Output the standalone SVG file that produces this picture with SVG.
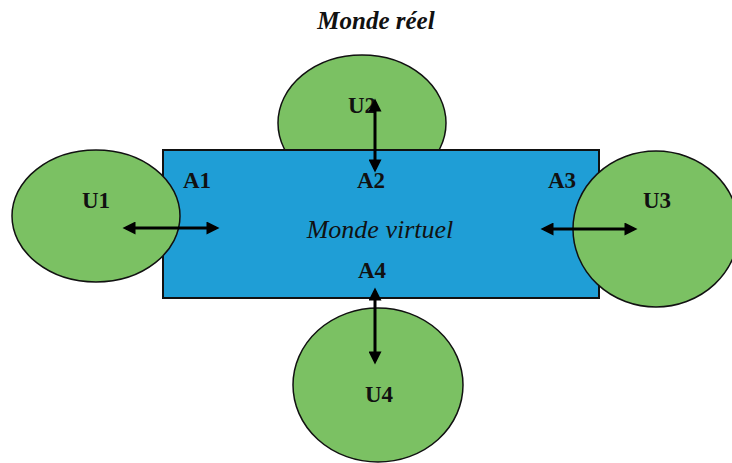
<svg xmlns="http://www.w3.org/2000/svg" width="732" height="463" viewBox="0 0 732 463">
  <style>
    .user { fill: #7bc163; stroke: #111; stroke-width: 1.5; }
    .world { fill: #1f9ed6; stroke: #111; stroke-width: 2; }
    .lbl { font-family: "Liberation Serif", "Times New Roman", serif; font-weight: bold; font-size: 23px; fill: #111; text-anchor: middle; }
    .ttl { font-family: "Liberation Serif", "Times New Roman", serif; font-style: italic; fill: #111; text-anchor: middle; }
    .conn { stroke: #000; stroke-width: 3; fill: none; marker-start: url(#ah); marker-end: url(#ah); }
  </style>
  <defs>
    <marker id="ah" viewBox="0 0 10 10" refX="7.3" refY="5" markerWidth="15" markerHeight="13" markerUnits="userSpaceOnUse" orient="auto-start-reverse">
      <path d="M0,0 L10,5 L0,10 z" fill="#000"/>
    </marker>
  </defs>
  <rect width="732" height="463" fill="#fff"/>

  <text class="ttl" x="376" y="29" font-size="25" font-weight="bold">Monde réel</text>

  <g id="U2">
    <ellipse class="user" cx="362" cy="123" rx="84" ry="68"/>
    <text class="lbl" x="362" y="113">U2</text>
  </g>

  <g id="monde-virtuel">
    <rect class="world" x="163" y="150" width="436" height="148"/>
    <text class="lbl" x="197" y="188">A1</text>
    <text class="lbl" x="371" y="188">A2</text>
    <text class="lbl" x="562" y="188">A3</text>
    <text class="lbl" x="372" y="278">A4</text>
    <text class="ttl" x="380" y="238" font-size="26">Monde virtuel</text>
  </g>

  <g id="U1">
    <ellipse class="user" cx="96" cy="216" rx="84" ry="66"/>
    <text class="lbl" x="96" y="208">U1</text>
  </g>

  <g id="U3">
    <ellipse class="user" cx="656" cy="229" rx="83" ry="78"/>
    <text class="lbl" x="657" y="208">U3</text>
  </g>

  <g id="U4">
    <ellipse class="user" cx="378" cy="385" rx="85" ry="77"/>
    <text class="lbl" x="379" y="402">U4</text>
  </g>

  <g id="connectors">
    <line class="conn" x1="126" y1="228" x2="216" y2="228"/>
    <line class="conn" x1="375" y1="102" x2="375" y2="169"/>
    <line class="conn" x1="544" y1="229" x2="634" y2="229"/>
    <line class="conn" x1="375" y1="291" x2="375" y2="361"/>
  </g>
</svg>
